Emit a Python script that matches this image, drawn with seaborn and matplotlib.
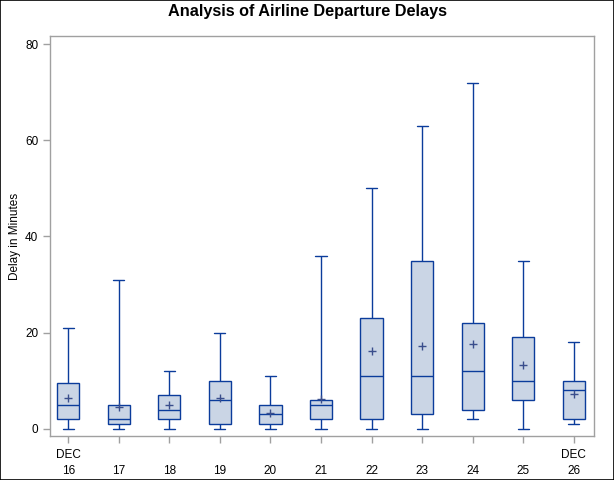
import numpy as np
import pandas as pd
import matplotlib
matplotlib.use("Agg")
import matplotlib.pyplot as plt
from matplotlib.patches import Rectangle
import seaborn as sns

# five-number summaries (minutes)
days = ["16", "17", "18", "19", "20", "21", "22", "23", "24", "25", "26"]
mins = [0, 0, 0, 0, 0, 0, 0, 0, 2, 0, 1]
q1s = [2, 1, 2, 1, 1, 2, 2, 3, 4, 6, 2]
medians = [5, 2, 4, 6, 3, 5, 11, 11, 12, 10, 8]
q3s = [9.5, 5, 7, 10, 5, 6, 23, 35, 22, 19, 10]
maxs = [21, 31, 12, 20, 11, 36, 50, 63, 72, 35, 18]
means = [6.5, 4.5, 5, 6.5, 3.2, 6.3, 16.1, 17.3, 17.6, 13.2, 7.3]
tick_labels = ["DEC\n16", "\n17", "\n18", "\n19", "\n20", "\n21",
               "\n22", "\n23", "\n24", "\n25", "DEC\n26"]

# with 5 points per group, numpy's quartiles land exactly on q1/median/q3
rows = []
for d, a, b, c, e, f in zip(days, mins, q1s, medians, q3s, maxs):
    for v in (a, b, c, e, f):
        rows.append({"day": d, "delay": v})
df = pd.DataFrame(rows)
df_mean = pd.DataFrame({"day": days, "delay": means})

edge = "#0B3C9B"
fill = "#CAD5E5"
gray = "#A0A0A0"

sns.set_style("white")
plt.rcParams["font.family"] = ["Liberation Sans", "DejaVu Sans"]
plt.rcParams["text.color"] = "black"
plt.rcParams["xtick.labelcolor"] = "black"
plt.rcParams["ytick.labelcolor"] = "black"
plt.rcParams["axes.labelcolor"] = "black"

fig = plt.figure(figsize=(6.14, 4.8), dpi=100)
ax = fig.add_axes([50 / 614, 44 / 480, 544 / 614, 400 / 480])

sns.boxplot(data=df, x="day", y="delay", order=days, ax=ax, whis=np.inf,
            width=0.44, color=fill, linecolor=edge, linewidth=1.0,
            showfliers=False, saturation=1)
sns.scatterplot(data=df_mean, x="day", y="delay", ax=ax, marker="+",
                s=40, color="#3A4E8C", linewidth=1.0, zorder=5, legend=False)

ax.set_xlim(-0.36, 10.4)
ax.set_ylim(-1.5, 81.7)
ax.set_yticks([0, 20, 40, 60, 80])
ax.set_xticks(range(len(days)))
ax.set_xticklabels(tick_labels, fontsize=8.5, linespacing=1.45)
ax.tick_params(axis="y", labelsize=8.5)
ax.tick_params(axis="both", direction="out", length=5, width=1, color=gray,
               left=True, bottom=True)
ax.tick_params(axis="x", pad=4)
for s in ax.spines.values():
    s.set_color(gray)
    s.set_linewidth(1)
ax.set_xlabel("")
ax.set_ylabel("Delay in Minutes", fontsize=8.5, labelpad=3)

fig.text(0.5, 0.992, "Analysis of Airline Departure Delays", ha="center",
         va="top", fontsize=11.7, fontweight="bold")
fig.patches.append(Rectangle((0.0008, 0.001), 0.9984, 0.998,
                             transform=fig.transFigure, fill=False,
                             edgecolor="black", linewidth=1.2))

fig.savefig("out.png", dpi=100)
